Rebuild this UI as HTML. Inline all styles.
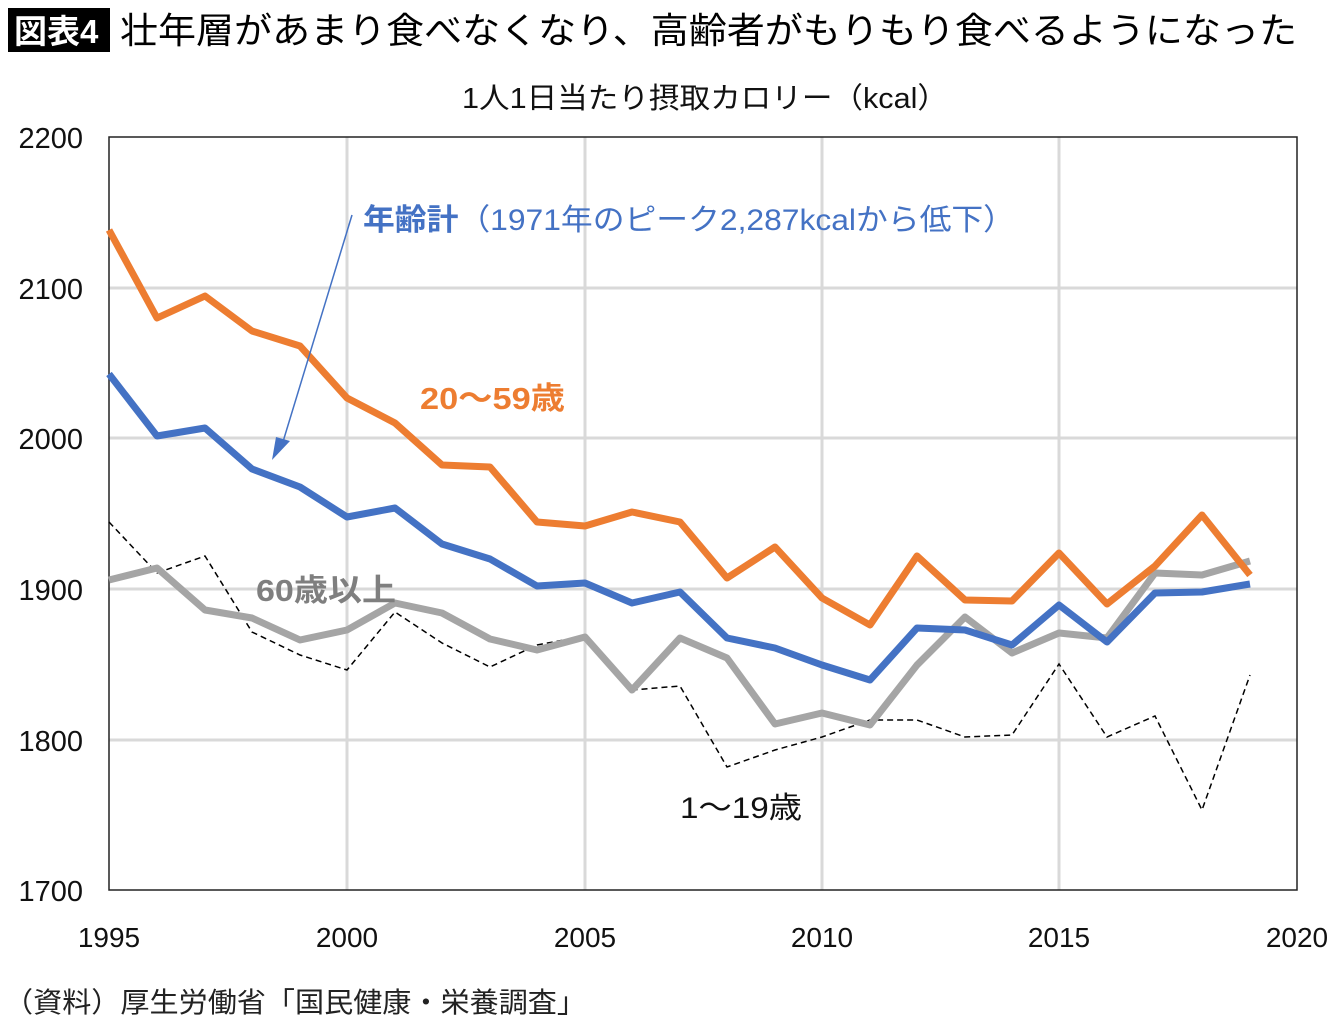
<!DOCTYPE html>
<html><head><meta charset="utf-8"><style>
body{margin:0;background:#fff;width:1340px;height:1031px;overflow:hidden;font-family:"Liberation Sans","Noto Sans CJK JP",sans-serif;}
</style></head><body>
<svg width="1340" height="1031" xmlns="http://www.w3.org/2000/svg" font-family="'Liberation Sans','Noto Sans CJK JP',sans-serif">
<rect x="8" y="8" width="102" height="44" fill="#000"/>
<text x="14" y="43" font-size="33" fill="#fff" font-weight="bold">図表4</text>
<text x="120" y="43" font-size="36" fill="#000" textLength="1177" lengthAdjust="spacingAndGlyphs">壮年層があまり食べなくなり、高齢者がもりもり食べるようになった</text>
<text x="462" y="108" font-size="29" fill="#111" textLength="486" lengthAdjust="spacingAndGlyphs">1人1日当たり摂取カロリー（kcal）</text>
<g stroke="#d9d9d9" stroke-width="3">
<line x1="109" y1="288" x2="1297" y2="288"/><line x1="109" y1="438" x2="1297" y2="438"/>
<line x1="109" y1="589" x2="1297" y2="589"/><line x1="109" y1="740" x2="1297" y2="740"/>
<line x1="347" y1="137" x2="347" y2="890"/><line x1="585" y1="137" x2="585" y2="890"/>
<line x1="822" y1="137" x2="822" y2="890"/><line x1="1059" y1="137" x2="1059" y2="890"/>
</g>
<rect x="109" y="137" width="1188" height="753" fill="none" stroke="#222" stroke-width="1.5"/>
<g font-size="29" fill="#111" text-anchor="end">
<text x="83" y="148">2200</text><text x="83" y="299">2100</text><text x="83" y="449">2000</text>
<text x="83" y="600">1900</text><text x="83" y="751">1800</text><text x="83" y="901">1700</text>
</g>
<g font-size="28" fill="#111" text-anchor="middle">
<text x="109" y="947">1995</text><text x="347" y="947">2000</text><text x="585" y="947">2005</text>
<text x="822" y="947">2010</text><text x="1059" y="947">2015</text><text x="1297" y="947">2020</text>
</g>
<polyline fill="none" stroke="#000" stroke-width="1.5" stroke-dasharray="6,4" points="109,522 157,573 205,556 252,632 300,655 347,670 395,612 442,643 490,667 537,645 585,636 632,690 680,686 727,767 775,750 822,737 870,720 917,720 965,737 1012,735 1059,664 1107,737 1155,716 1202,810 1250,675"/>
<polyline fill="none" stroke="#a5a5a5" stroke-width="7" stroke-linejoin="round" points="109,580 157,568 205,610 252,618 300,640 347,630 395,603 442,613 490,639 537,650 585,637 632,690 680,638 727,658 775,724 822,713 870,725 917,665 965,617 1012,653 1059,633 1107,638 1155,573 1202,575 1250,561"/>
<polyline fill="none" stroke="#4472c4" stroke-width="7" stroke-linejoin="round" points="109,374 157,436 205,428 252,469 300,487 347,517 395,508 442,544 490,559 537,586 585,583 632,603 680,592 727,638 775,648 822,665 870,680 917,628 965,630 1012,645 1059,605 1107,642 1155,593 1202,592 1250,584"/>
<polyline fill="none" stroke="#ed7d31" stroke-width="7" stroke-linejoin="round" points="109,230 157,318 205,296 252,331 300,346 347,398 395,423 442,465 490,467 537,522 585,526 632,512 680,522 727,578 775,547 822,598 870,625 917,556 965,600 1012,601 1059,553 1107,604 1155,566 1202,515 1250,575"/>
<line x1="352" y1="215" x2="282" y2="445" stroke="#4472c4" stroke-width="1.5"/>
<polygon points="272,460 276,437 290,441" fill="#4472c4"/>
<text x="363" y="230" font-size="30" fill="#4472c4" textLength="652" lengthAdjust="spacingAndGlyphs"><tspan font-weight="bold">年齢計</tspan>（1971年のピーク2,287kcalから低下）</text>
<text x="420" y="409" font-size="31" fill="#ed7d31" font-weight="bold" textLength="145" lengthAdjust="spacingAndGlyphs">20～59歳</text>
<text x="256" y="601" font-size="31" fill="#7f7f7f" font-weight="bold" textLength="140" lengthAdjust="spacingAndGlyphs">60歳以上</text>
<text x="680" y="818" font-size="30" fill="#111" textLength="122" lengthAdjust="spacingAndGlyphs">1～19歳</text>
<text x="4" y="1012" font-size="28" fill="#222" textLength="582" lengthAdjust="spacingAndGlyphs">（資料）厚生労働省「国民健康・栄養調査」</text>
</svg>
</body></html>
